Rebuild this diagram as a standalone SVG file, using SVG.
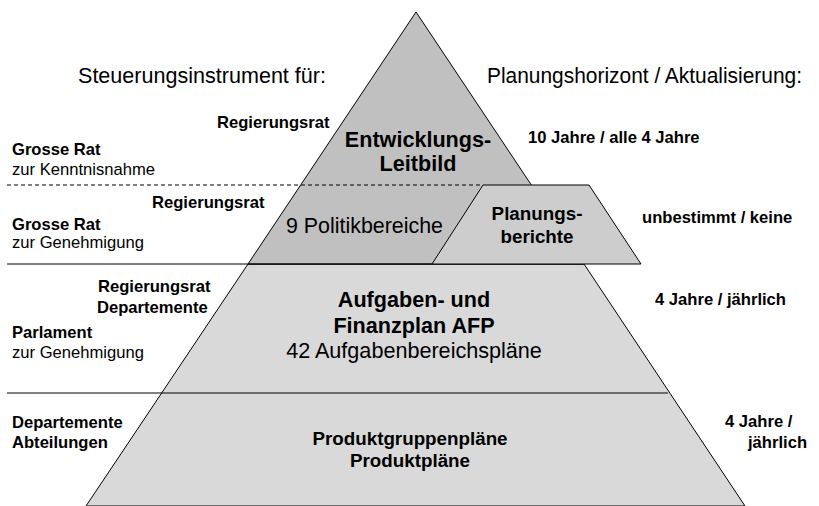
<svg xmlns="http://www.w3.org/2000/svg" width="819" height="506" viewBox="0 0 819 506">
<style>
text{font-family:"Liberation Sans",Arial,sans-serif;fill:#000}
.h{font-size:21.6px}
.b{font-size:16.6px;font-weight:bold}
.r{font-size:16.6px}
.L{font-size:21.6px;font-weight:bold}
.Lr{font-size:21.6px}
.M{font-size:18.8px;font-weight:bold}
.c{text-anchor:middle}
.ln{stroke:#000;stroke-width:1;fill:none}
.dash{stroke:#000;stroke-width:1;stroke-dasharray:4 3;fill:none}
.edge{stroke:#000;stroke-width:1}
</style>
<rect width="819" height="506" fill="#fff"/>
<g id="headers">
<text class="h" x="78" y="83" textLength="248" lengthAdjust="spacingAndGlyphs">Steuerungsinstrument für:</text>
<text class="h" x="487" y="83" textLength="315" lengthAdjust="spacingAndGlyphs">Planungshorizont / Aktualisierung:</text>
</g>
<g id="pyramid-base">
<polygon points="248,264 584,264 745,506 86,506" fill="#d9d9d9" class="edge"/>
</g>
<g id="leitbild">
<polygon points="416,12 248,264 584,264" fill="#c0c0c0" class="edge"/>
<text class="L c" x="418" y="147">Entwicklungs-</text>
<text class="L c" x="418" y="171">Leitbild</text>
</g>
<g id="politikbereiche">
<text class="Lr" x="286" y="233" textLength="157" lengthAdjust="spacingAndGlyphs">9 Politikbereiche</text>
</g>
<g id="planungsberichte">
<polygon points="483,185 589,185 641,264 432,264" fill="#cdcdcd" class="edge"/>
<text class="M c" x="537" y="220">Planungs-</text>
<text class="M c" x="537" y="243">berichte</text>
</g>
<g id="connectors">
<line class="dash" x1="7" y1="185" x2="483" y2="185"/>
<line class="ln" x1="7" y1="264" x2="432" y2="264"/>
<line class="ln" x1="7" y1="393" x2="668" y2="393"/>
</g>
<g id="afp">
<text class="L c" x="414" y="307">Aufgaben- und</text>
<text class="L c" x="414" y="333">Finanzplan AFP</text>
<text class="Lr c" x="414" y="358">42 Aufgabenbereichspläne</text>
</g>
<g id="produktplaene">
<text class="M c" x="410" y="445">Produktgruppenpläne</text>
<text class="M c" x="410" y="467">Produktpläne</text>
</g>
<g id="left-labels">
<text class="b" x="217" y="128">Regierungsrat</text>
<text class="b" x="12" y="155">Grosse Rat</text>
<text class="r" x="12" y="175">zur Kenntnisnahme</text>
<text class="b" x="152" y="208">Regierungsrat</text>
<text class="b" x="12" y="230">Grosse Rat</text>
<text class="r" x="12" y="248">zur Genehmigung</text>
<text class="b" x="98" y="292">Regierungsrat</text>
<text class="b" x="97" y="313">Departemente</text>
<text class="b" x="12" y="338">Parlament</text>
<text class="r" x="12" y="358">zur Genehmigung</text>
<text class="b" x="12" y="428">Departemente</text>
<text class="b" x="12" y="448">Abteilungen</text>
</g>
<g id="right-labels">
<text class="b" x="528" y="143">10 Jahre / alle 4 Jahre</text>
<text class="b" x="642" y="223">unbestimmt / keine</text>
<text class="b" x="655" y="305">4 Jahre / jährlich</text>
<text class="b" x="725" y="427">4 Jahre /</text>
<text class="b" x="748" y="448">jährlich</text>
</g>
</svg>
